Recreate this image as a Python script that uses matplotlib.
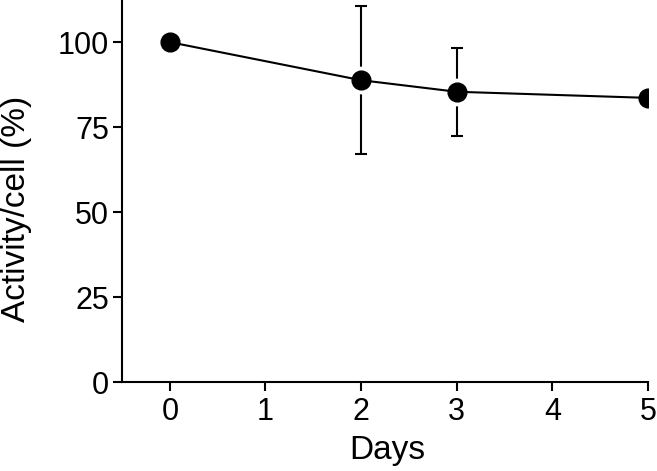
import matplotlib
matplotlib.use("Agg")
import matplotlib.pyplot as plt

days = [0, 2, 3, 5]
activity = [100.0, 88.8, 85.4, 83.6]
err_days = [2, 3]
err_mean = [88.8, 85.35]
err_sd = [21.8, 13.0]
xticks = [0, 1, 2, 3, 4, 5]
yticks = [0, 25, 50, 75, 100]

plt.rcParams['font.family'] = ['Liberation Sans', 'DejaVu Sans']

fig = plt.figure(figsize=(6.57, 4.71), dpi=100)
ax = fig.add_axes([122/657, 89/471, (648-122)/657, 382/471])

ax.errorbar(err_days, err_mean, yerr=err_sd, fmt='none', ecolor='black',
            elinewidth=1.5, capsize=4.3, capthick=1.5, zorder=1)
ax.plot(days, activity, linestyle='none', marker='o', markersize=19,
        markerfacecolor='white', markeredgecolor='white', zorder=2)
ax.plot(days, activity, color='black', linewidth=1.5, zorder=3)
ax.plot(days, activity, linestyle='none', marker='o', markersize=13.5,
        color='black', zorder=4)

ax.set_xlim(-0.5, 5)
ax.set_ylim(0, 112.4)
ax.set_xticks(xticks)
ax.set_yticks(yticks)
for s in ['top', 'right']:
    ax.spines[s].set_visible(False)
for s in ['left', 'bottom']:
    ax.spines[s].set_linewidth(1.5)
ax.tick_params(direction='out', length=6.5, width=1.5, labelsize=22)
ax.tick_params(axis='x', pad=4)
ax.tick_params(axis='y', pad=3)
ax.set_xlabel('Days', fontsize=24)
ax.xaxis.set_label_coords(0.504, -0.14)
ax.xaxis.label.set_va('top')
ax.set_ylabel('Activity/cell (%)', fontsize=24)
ax.yaxis.set_label_coords(-0.2015, 0.454)
ax.yaxis.label.set_va('center')

fig.savefig('out.png', dpi=100)
